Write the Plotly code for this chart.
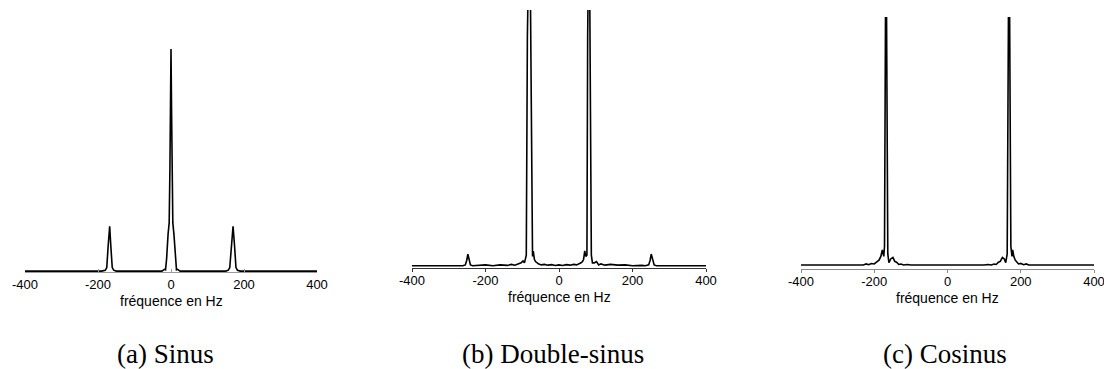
import plotly.graph_objects as go

# ---------------- data ----------------
tick_vals = [-400, -200, 0, 200, 400]
tick_text = ["-400", "-200", "0", "200", "400"]
x_label = "fréquence en Hz"
captions = ["(a) Sinus", "(b) Double-sinus", "(c) Cosinus"]

# (a) Sinus
freq_a = [-400, -190, -180, -176, -172, -168, -165, -161, -157, -150,
          -25, -18, -15, -12, -8, -5, -3, -1.5, 0, 1.5, 3, 5, 8, 12, 15, 18, 25,
          150, 157, 161, 166, 170, 174, 178, 182, 190, 400]
mag_a = [0.004, 0.004, 0.008, 0.02, 0.12, 0.205, 0.12, 0.02, 0.008, 0.004,
         0.004, 0.012, 0.01, 0.06, 0.17, 0.22, 0.46, 0.73, 1.0, 0.73, 0.46, 0.22, 0.17, 0.06, 0.01, 0.012, 0.004,
         0.004, 0.008, 0.02, 0.12, 0.205, 0.12, 0.02, 0.008, 0.004, 0.004]

# (b) Double-sinus
freq_b = [-400, -262, -255, -251, -248, -245, -241, -235, -225, -200, -180, -160,
          -140, -130, -120, -110, -103, -98, -94, -89, -86, -80, -74, -72, -70, -67,
          -64, -60, -55, -48, -40, -30, -20, -10, 0, 10, 20, 30, 40, 48, 55, 60, 64,
          67, 70, 73, 76, 78, 82, 88, 91, 96, 102, 108, 114, 125, 140, 160, 180,
          200, 225, 235, 244, 248, 251, 255, 259, 265, 400]
mag_b = [0.009, 0.009, 0.012, 0.03, 0.054, 0.03, 0.012, 0.009, 0.01, 0.012, 0.009, 0.012,
         0.01, 0.014, 0.011, 0.016, 0.02, 0.027, 0.02, 0.05, 0.9, 1.45, 0.05, 0.045, 0.065, 0.034,
         0.025, 0.02, 0.015, 0.012, 0.014, 0.011, 0.013, 0.01, 0.012, 0.01, 0.013, 0.011, 0.014, 0.012, 0.015, 0.02, 0.025,
         0.034, 0.066, 0.045, 0.05, 0.9, 1.45, 0.05, 0.02, 0.02, 0.025, 0.012, 0.016, 0.011, 0.014, 0.011, 0.012,
         0.009, 0.01, 0.009, 0.012, 0.03, 0.054, 0.03, 0.012, 0.009, 0.009]

# (c) Cosinus
freq_c = [-400, -230, -222, -215, -208, -200, -193, -187, -182, -178, -174, -172,
          -168, -163, -160, -155, -149, -144, -139, -133, -127, -120, -110, -100,
          100, 110, 120, 127, 133, 139, 144, 150, 155, 159, 163, 168, 173, 176,
          178, 181, 185, 189, 194, 200, 208, 215, 222, 230, 400]
mag_c = [0.016, 0.016, 0.02, 0.017, 0.022, 0.02, 0.028, 0.035, 0.05, 0.076, 0.05, 0.09,
         1.45, 0.06, 0.025, 0.04, 0.046, 0.03, 0.027, 0.018, 0.02, 0.016, 0.018, 0.016,
         0.016, 0.018, 0.016, 0.02, 0.018, 0.027, 0.03, 0.046, 0.04, 0.025, 0.06, 1.45, 0.09, 0.05,
         0.076, 0.05, 0.035, 0.028, 0.02, 0.022, 0.017, 0.02, 0.016, 0.016, 0.016]

# ---------------- layout helpers ----------------
W, H = 1104, 369


def px_x(px):
    return px / W


def px_y(py):
    return (H - py) / H


panels = [
    dict(x0=25, x1=317, top=45, bottom=272, ymax=1.018, lc="#9a9a9a", ticks="inside", sto=0, freq=freq_a, mag=mag_a),
    dict(x0=412, x1=706, top=10, bottom=268, ymax=1.0, lc="#333333", ticks="outside", sto=-3, freq=freq_b, mag=mag_b),
    dict(x0=801, x1=1094, top=17, bottom=269, ymax=1.0, lc="#8a8a8a", ticks="outside", sto=-3, freq=freq_c, mag=mag_c),
]

fig = go.Figure()
layout = dict(
    width=W, height=H,
    margin=dict(l=0, r=0, t=0, b=0, autoexpand=False),
    paper_bgcolor="white", plot_bgcolor="white",
    showlegend=False,
    annotations=[],
)

cap_x = [165, 553, 945]
for i, p in enumerate(panels):
    n = "" if i == 0 else str(i + 1)
    fig.add_trace(go.Scatter(
        x=p["freq"], y=p["mag"], mode="lines",
        line=dict(color="black", width=1.6),
        xaxis="x" + n, yaxis="y" + n, hoverinfo="skip",
    ))
    layout["xaxis" + n] = dict(
        domain=[px_x(p["x0"]), px_x(p["x1"])],
        range=[-400, 400], anchor="y" + n,
        tickvals=tick_vals, ticktext=tick_text,
        showline=True, linecolor=p["lc"], linewidth=1,
        ticks=p["ticks"], ticklen=3, tickcolor=p["lc"], tickwidth=1,
        ticklabelstandoff=p["sto"], ticklabeloverflow="allow",
        showgrid=False, zeroline=False, automargin=False,
        tickfont=dict(family="Liberation Sans", size=13, color="black"),
        fixedrange=True,
    )
    layout["yaxis" + n] = dict(
        domain=[px_y(p["bottom"]), px_y(p["top"])],
        range=[0, p["ymax"]], anchor="x" + n,
        visible=False, fixedrange=True, automargin=False,
    )
    cx = (p["x0"] + p["x1"]) / 2
    layout["annotations"].append(dict(
        x=px_x(cx), y=px_y(p["bottom"] + 29), xref="paper", yref="paper",
        text=x_label, showarrow=False, xanchor="center", yanchor="middle",
        font=dict(family="Liberation Sans", size=14, color="black"),
    ))
    layout["annotations"].append(dict(
        x=px_x(cap_x[i]), y=px_y(354), xref="paper", yref="paper",
        text=captions[i], showarrow=False, xanchor="center", yanchor="middle",
        font=dict(family="Liberation Serif", size=27, color="black"),
    ))

fig.update_layout(**layout)
fig.write_html("out.html")
